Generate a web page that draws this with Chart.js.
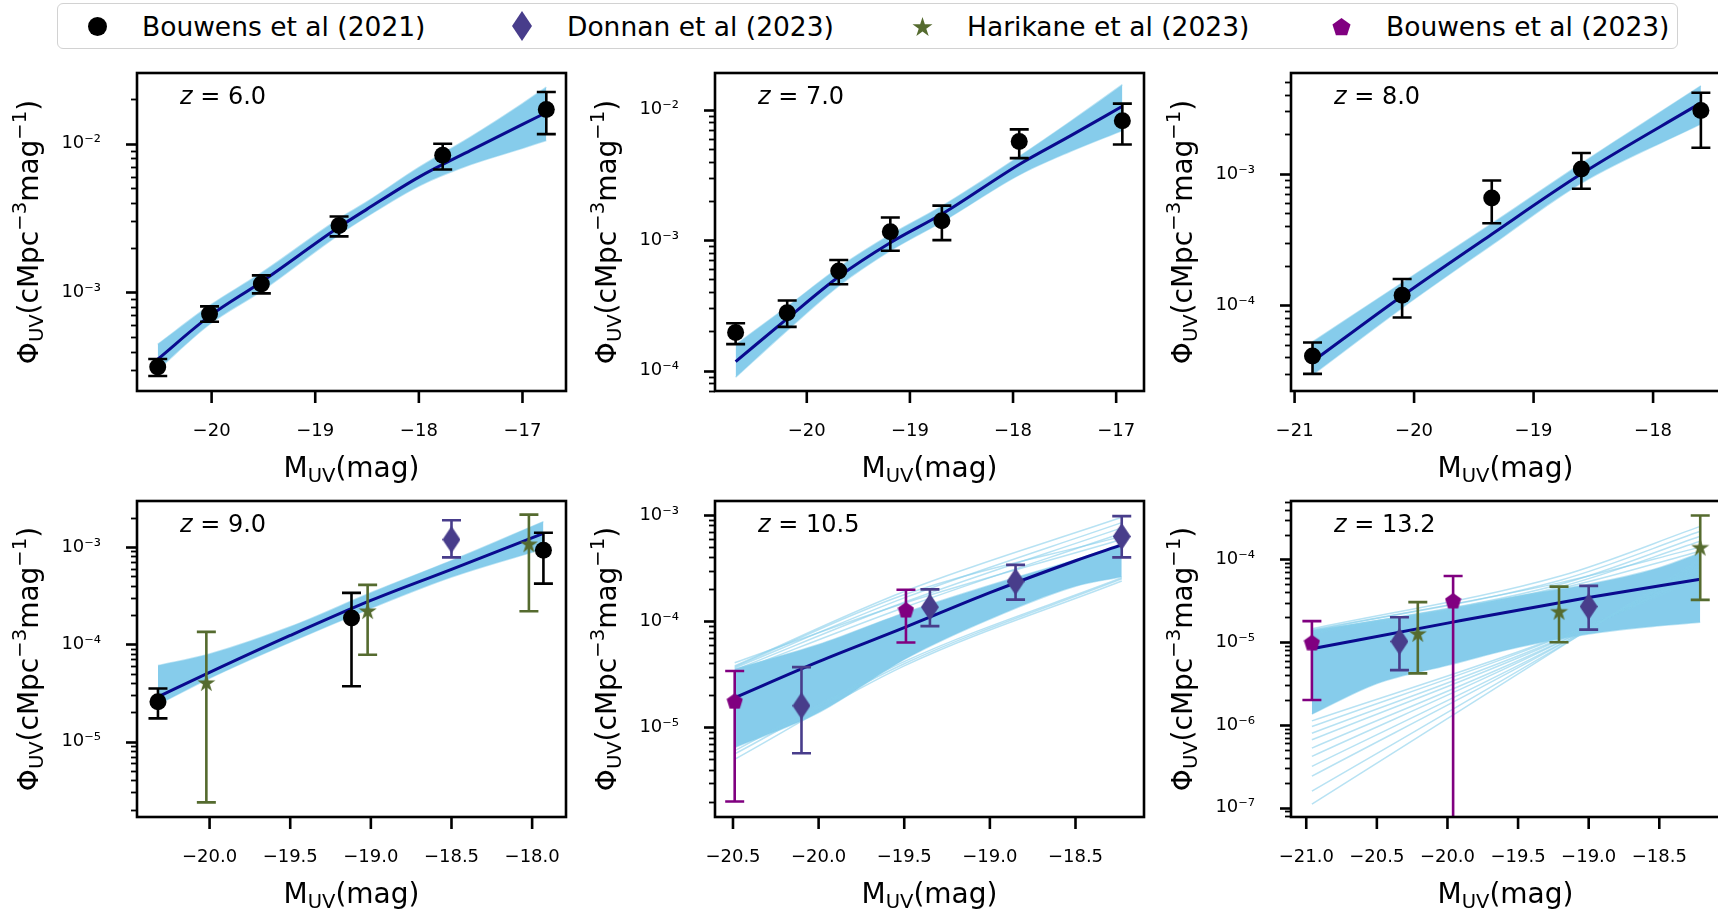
<!DOCTYPE html>
<html>
<head>
<meta charset="utf-8">
<script src="https://cdn.jsdelivr.net/npm/chart.js@4.4.1/dist/chart.umd.min.js"></script>
<style>
  body { margin: 0; width: 1718px; height: 912px; overflow: hidden; background: #fff; position: relative; font-family: "DejaVu Sans", sans-serif; }
  .panel { position: absolute; }
  #legend { position: absolute; left: 57px; top: 3px; width: 1621px; height: 46px; border: 1.5px solid #d2d2d2; border-radius: 6px; box-sizing: border-box; background: #fff; }
  .item { position: absolute; top: 0; height: 100%; display: flex; align-items: center; font-size: 26.5px; color: #000; white-space: nowrap; }
  .item .mk { width: 28px; margin-right: 31px; display: flex; justify-content: center; align-items: center; }
</style>
</head>
<body>
<div id="legend"></div>
<script>
// ====== Data ======

// z = 6.0
const z6_xRange = [-20.72, -16.58];
const z6_yRange = [2.17e-4, 2.99e-2];
const z6_xTicks = [-20, -19, -18, -17];
const z6_yTicks = [1e-3, 1e-2];
const z6_b21_M = [-20.52, -20.02, -19.52, -18.77, -17.77, -16.77];
const z6_b21_phi = [3.15e-4, 7.15e-4, 1.14e-3, 2.82e-3, 8.35e-3, 1.70e-2];
const z6_b21_lo = [2.74e-4, 6.34e-4, 9.85e-4, 2.38e-3, 6.71e-3, 1.16e-2];
const z6_b21_hi = [3.56e-4, 8.05e-4, 1.30e-3, 3.24e-3, 1.0e-2, 2.23e-2];
const z6_fit_M = [-20.52, -20.02, -19.52, -18.77, -18.5, -18.0, -17.5, -17.0, -16.77];
const z6_fit_phi = [3.55e-4, 6.92e-4, 1.175e-3, 2.75e-3, 3.63e-3, 5.96e-3, 9.02e-3, 1.35e-2, 1.62e-2];
const z6_band_M = [-20.52, -20.02, -19.52, -18.77, -18.5, -18.0, -17.5, -17.0, -16.77];
const z6_band_hi = [4.47e-4, 8.13e-4, 1.35e-3, 3.13e-3, 4.07e-3, 6.92e-3, 1.11e-2, 1.86e-2, 2.40e-2];
const z6_band_lo = [3.02e-4, 6.10e-4, 1.02e-3, 2.45e-3, 3.24e-3, 5.19e-3, 7.24e-3, 9.33e-3, 1.05e-2];

// z = 7.0
const z7_xRange = [-20.89, -16.73];
const z7_yRange = [7.41e-5, 1.905e-2];
const z7_xTicks = [-20, -19, -18, -17];
const z7_yTicks = [1e-4, 1e-3, 1e-2];
const z7_b21_M = [-20.69, -20.19, -19.69, -19.19, -18.69, -17.94, -16.94];
const z7_b21_phi = [1.96e-4, 2.78e-4, 5.8e-4, 1.16e-3, 1.41e-3, 5.7e-3, 8.2e-3];
const z7_b21_lo = [1.6e-4, 2.17e-4, 4.6e-4, 8.3e-4, 1.0e-3, 4.25e-3, 5.4e-3];
const z7_b21_hi = [2.31e-4, 3.45e-4, 7.05e-4, 1.49e-3, 1.84e-3, 7.05e-3, 1.11e-2];
const z7_fit_M = [-20.69, -20.19, -19.69, -19.19, -18.69, -17.94, -17.44, -16.94];
const z7_fit_phi = [1.175e-4, 2.51e-4, 5.25e-4, 9.55e-4, 1.585e-3, 3.8e-3, 6.31e-3, 1.06e-2];
const z7_band_M = [-20.69, -20.19, -19.69, -19.19, -18.69, -17.94, -17.44, -16.94];
const z7_band_hi = [1.58e-4, 3.09e-4, 6.17e-4, 1.10e-3, 1.82e-3, 4.37e-3, 8.13e-3, 1.55e-2];
const z7_band_lo = [8.91e-5, 2.04e-4, 4.47e-4, 8.32e-4, 1.38e-3, 3.16e-3, 4.79e-3, 6.92e-3];

// z = 8.0
const z8_xRange = [-21.03, -17.44];
const z8_yRange = [2.22e-5, 5.86e-3];
const z8_xTicks = [-21, -20, -19, -18];
const z8_yTicks = [1e-4, 1e-3];
const z8_b21_M = [-20.85, -20.10, -19.35, -18.60, -17.60];
const z8_b21_phi = [4.1e-5, 1.19e-4, 6.56e-4, 1.09e-3, 3.04e-3];
const z8_b21_lo = [3.0e-5, 8.05e-5, 4.2e-4, 7.7e-4, 1.58e-3];
const z8_b21_hi = [5.2e-5, 1.58e-4, 8.9e-4, 1.44e-3, 4.15e-3];
const z8_fit_M = [-20.85, -20.10, -19.35, -18.60, -17.60];
const z8_fit_phi = [3.72e-5, 1.175e-4, 3.47e-4, 1.0e-3, 3.47e-3];
const z8_band_M = [-20.85, -20.10, -19.35, -18.60, -17.60];
const z8_band_hi = [5.25e-5, 1.48e-4, 4.17e-4, 1.20e-3, 4.68e-3];
const z8_band_lo = [2.95e-5, 9.55e-5, 2.88e-4, 8.51e-4, 2.40e-3];

// z = 9.0
const z9_xRange = [-20.45, -17.79];
const z9_yRange = [1.675e-6, 2.965e-3];
const z9_xTicks = [-20.0, -19.5, -19.0, -18.5, -18.0];
const z9_yTicks = [1e-5, 1e-4, 1e-3];
const z9_b21_M = [-20.32, -19.12, -17.93];
const z9_b21_phi = [2.56e-5, 1.86e-4, 9.25e-4];
const z9_b21_lo = [1.73e-5, 3.7e-5, 4.2e-4];
const z9_b21_hi = [3.5e-5, 3.37e-4, 1.4e-3];
const z9_d23_M = [-18.5];
const z9_d23_phi = [1.19e-3];
const z9_d23_lo = [7.8e-4];
const z9_d23_hi = [1.88e-3];
const z9_h23_M = [-20.02, -19.02, -18.02];
const z9_h23_phi = [4.05e-5, 2.22e-4, 1.08e-3];
const z9_h23_lo = [2.37e-6, 7.8e-5, 2.18e-4];
const z9_h23_hi = [1.34e-4, 4.07e-4, 2.15e-3];
const z9_fit_M = [-20.32, -20.0, -19.5, -19.0, -18.5, -17.93];
const z9_fit_phi = [2.88e-5, 5.13e-5, 1.23e-4, 2.82e-4, 5.89e-4, 1.38e-3];
const z9_band_M = [-20.32, -20.0, -19.5, -19.0, -18.5, -17.93];
const z9_band_hi = [6.03e-5, 7.94e-5, 1.51e-4, 3.39e-4, 7.24e-4, 1.82e-3];
const z9_band_lo = [2.40e-5, 4.47e-5, 1.05e-4, 2.34e-4, 4.90e-4, 9.55e-4];

// z = 10.5
const z105_xRange = [-20.605, -18.10];
const z105_yRange = [1.43e-6, 1.36e-3];
const z105_xTicks = [-20.5, -20.0, -19.5, -19.0, -18.5];
const z105_yTicks = [1e-5, 1e-4, 1e-3];
const z105_b23_M = [-20.49, -19.49];
const z105_b23_phi = [1.78e-5, 1.29e-4];
const z105_b23_lo = [2.0e-6, 6.3e-5];
const z105_b23_hi = [3.4e-5, 1.98e-4];
const z105_d23_M = [-20.10, -19.35, -18.85, -18.23];
const z105_d23_phi = [1.6e-5, 1.36e-4, 2.37e-4, 6.3e-4];
const z105_d23_lo = [5.7e-6, 9.0e-5, 1.6e-4, 4.0e-4];
const z105_d23_hi = [3.7e-5, 2.0e-4, 3.4e-4, 9.8e-4];
const z105_fit_M = [-20.49, -20.0, -19.5, -19.0, -18.5, -18.23];
const z105_fit_phi = [1.905e-5, 4.17e-5, 8.71e-5, 1.86e-4, 3.72e-4, 5.25e-4];
const z105_band_M = [-20.49, -20.0, -19.5, -19.0, -18.5, -18.23];
const z105_band_hi = [3.55e-5, 6.03e-5, 1.20e-4, 2.19e-4, 3.80e-4, 5.37e-4];
const z105_band_lo = [6.46e-6, 1.38e-5, 4.37e-5, 1.05e-4, 2.14e-4, 2.63e-4];
const z105_sample_M = [-20.49, -19.5, -18.23];
const z105_samples = [
    [3.80e-5, 1.91e-4, 9.55e-4],
    [3.63e-5, 1.66e-4, 8.51e-4],
    [3.47e-5, 1.51e-4, 7.59e-4],
    [3.31e-5, 1.35e-4, 6.76e-4],
    [3.72e-5, 1.78e-4, 6.31e-4],
    [4.07e-5, 1.48e-4, 5.89e-4],
    [5.01e-6, 3.80e-5, 2.40e-4],
    [5.62e-6, 3.98e-5, 2.51e-4],
    [6.03e-6, 4.17e-5, 2.57e-4]
];

// z = 13.2
const z132_xRange = [-21.108, -18.07];
const z132_yRange = [7.71e-8, 5.09e-4];
const z132_xTicks = [-21.0, -20.5, -20.0, -19.5, -19.0, -18.5];
const z132_yTicks = [1e-7, 1e-6, 1e-5, 1e-4];
const z132_b23_M = [-20.96, -19.96];
const z132_b23_phi = [1.0e-5, 3.2e-5];
const z132_b23_lo = [2.0e-6, 1e-9];
const z132_b23_hi = [1.8e-5, 6.3e-5];
const z132_d23_M = [-20.34, -19.0];
const z132_d23_phi = [1.02e-5, 2.7e-5];
const z132_d23_lo = [4.6e-6, 1.42e-5];
const z132_d23_hi = [2.0e-5, 4.8e-5];
const z132_h23_M = [-20.21, -19.21, -18.21];
const z132_h23_phi = [1.28e-5, 2.37e-5, 1.41e-4];
const z132_h23_lo = [4.2e-6, 1.0e-5, 3.25e-5];
const z132_h23_hi = [3.05e-5, 4.7e-5, 3.4e-4];
const z132_fit_M = [-20.96, -20.0, -19.0, -18.21];
const z132_fit_phi = [8.32e-6, 1.70e-5, 3.47e-5, 5.75e-5];
const z132_band_M = [-20.96, -20.5, -20.0, -19.5, -19.0, -18.5, -18.21];
const z132_band_hi = [1.38e-5, 1.82e-5, 2.51e-5, 3.63e-5, 5.01e-5, 7.94e-5, 1.20e-4];
const z132_band_lo = [1.35e-6, 3.16e-6, 5.25e-6, 8.71e-6, 1.26e-5, 1.58e-5, 1.74e-5];
const z132_sample_M = [-20.96, -19.2, -18.21];
const z132_samples = [
    [1.10e-7, 8.71e-6, 1.0e-4],
    [1.58e-7, 8.91e-6, 9.33e-5],
    [2.40e-7, 9.33e-6, 8.71e-5],
    [3.16e-7, 9.55e-6, 8.32e-5],
    [4.17e-7, 1.0e-5, 7.94e-5],
    [5.25e-7, 1.02e-5, 7.41e-5],
    [6.61e-7, 1.07e-5, 7.08e-5],
    [7.94e-7, 1.10e-5, 6.61e-5],
    [9.55e-7, 1.15e-5, 6.31e-5],
    [1.12e-6, 1.17e-5, 5.89e-5],
    [1.45e-5, 6.31e-5, 2.51e-4],
    [1.38e-5, 5.62e-5, 2.19e-4],
    [1.32e-5, 5.01e-5, 1.91e-4],
    [1.26e-5, 4.68e-5, 1.66e-4],
    [1.41e-5, 5.25e-5, 1.41e-4],
    [1.35e-5, 4.47e-5, 1.26e-4]
];

// ====== Styles ======
const FONT = '"DejaVu Sans", sans-serif';
const SKY_FILL = 'rgba(128,201,234,0.95)';
const SKY_EDGE = 'rgba(135,206,235,0.55)';
const SKY_LINE = 'rgba(135,206,235,0.6)';
const FIT_COLOR = '#0a0a8e';
const SERIES = {
    b21: { label: 'Bouwens et al (2021)', color: '#000000', marker: 'circle' },
    d23: { label: 'Donnan et al (2023)', color: '#483d8b', marker: 'diamond' },
    h23: { label: 'Harikane et al (2023)', color: '#556b2f', marker: 'star' },
    b23: { label: 'Bouwens et al (2023)', color: '#800080', marker: 'pentagon' }
};
const AXIS_W = 137, AXIS_H = 100, PAD_T = 20, PAD_R = 20;
const CAP = 9.5;

// ====== Marker images ======
function makeMarker(kind, color, scale = 1) {
    const c = document.createElement('canvas');
    const sizes = { circle: [17, 17], diamond: [18, 27], star: [19, 19], pentagon: [17, 17] };
    const w = Math.round(sizes[kind][0] * scale), h = Math.round(sizes[kind][1] * scale);
    c.width = w; c.height = h;
    const g = c.getContext('2d');
    g.fillStyle = color;
    g.beginPath();
    if (kind === 'circle') {
        g.arc(w / 2, h / 2, w / 2, 0, Math.PI * 2);
    } else if (kind === 'diamond') {
        g.moveTo(w / 2, 0); g.lineTo(w, h / 2); g.lineTo(w / 2, h); g.lineTo(0, h / 2);
    } else if (kind === 'star') {
        for (let i = 0; i < 10; i++) {
            const r = i % 2 ? w * 0.19 : w / 2;
            const a = -Math.PI / 2 + i * Math.PI / 5;
            g.lineTo(w / 2 + r * Math.cos(a), h / 2 + 1 + r * Math.sin(a));
        }
    } else if (kind === 'pentagon') {
        for (let i = 0; i < 5; i++) {
            const a = -Math.PI / 2 + i * 2 * Math.PI / 5;
            g.lineTo(w / 2 + (w / 2) * Math.cos(a), h / 2 + 1 + (h / 2) * Math.sin(a));
        }
    }
    g.closePath();
    g.fill();
    return c;
}

// ====== Label helpers ======
const SUP = { '-': '\u207b', '0': '\u2070', '1': '\u00b9', '2': '\u00b2', '3': '\u00b3', '4': '\u2074', '5': '\u2075', '6': '\u2076', '7': '\u2077', '8': '\u2078', '9': '\u2079' };
function logLabel(v) {
    const e = String(Math.round(Math.log10(v)));
    return '10' + e.split('').map(ch => SUP[ch]).join('');
}
function magLabel(v, dec) {
    return v.toFixed(dec).replace('-', '\u2212');
}

function partFont(pt, size) {
    const s = (pt.sub || pt.sup) ? size * 0.7 : size;
    return (pt.italic ? 'italic ' : '') + s + 'px ' + FONT;
}
function drawRich(ctx, parts, size, x, y, align) {
    const widths = parts.map(pt => { ctx.font = partFont(pt, size); return ctx.measureText(pt.t).width; });
    const total = widths.reduce((a, b) => a + b, 0);
    let cx = align === 'center' ? x - total / 2 : x;
    ctx.textAlign = 'left';
    ctx.textBaseline = 'alphabetic';
    parts.forEach((pt, i) => {
        ctx.font = partFont(pt, size);
        const dy = pt.sub ? size * 0.19 : pt.sup ? -size * 0.42 : 0;
        ctx.fillText(pt.t, cx, y + dy);
        cx += widths[i];
    });
}

const XLABEL = [{ t: 'M' }, { t: 'UV', sub: true }, { t: '(mag)' }];
const YLABEL = [{ t: '\u03a6' }, { t: 'UV', sub: true }, { t: '(cMpc' }, { t: '\u22123', sup: true }, { t: 'mag' }, { t: '\u22121', sup: true }, { t: ')' }];

// ====== Plugins ======
const errorBarPlugin = {
    id: 'errorBars',
    beforeDatasetDraw(chart, args) {
        const ds = chart.data.datasets[args.index];
        if (!ds.errLo) return;
        const { ctx, chartArea: a, scales: { x, y } } = chart;
        ctx.save();
        ctx.beginPath();
        ctx.rect(a.left, a.top, a.right - a.left, a.bottom - a.top);
        ctx.clip();
        ctx.strokeStyle = ds.errColor;
        ctx.lineWidth = 2.6;
        ds.data.forEach((p, i) => {
            const px = x.getPixelForValue(p.x);
            const y0 = y.getPixelForValue(ds.errLo[i]);
            const y1 = y.getPixelForValue(ds.errHi[i]);
            ctx.beginPath();
            ctx.moveTo(px, y0); ctx.lineTo(px, y1);
            ctx.moveTo(px - CAP, y1); ctx.lineTo(px + CAP, y1);
            ctx.moveTo(px - CAP, y0); ctx.lineTo(px + CAP, y0);
            ctx.stroke();
        });
        ctx.restore();
    }
};

const framePlugin = {
    id: 'frame',
    afterDatasetsDraw(chart) {
        const { ctx, chartArea: a, scales: { x, y } } = chart;
        ctx.save();
        ctx.strokeStyle = '#000';
        ctx.lineWidth = 2.6;
        ctx.strokeRect(a.left, a.top, a.right - a.left, a.bottom - a.top);
        x.ticks.forEach(t => {
            const px = x.getPixelForValue(t.value);
            ctx.beginPath(); ctx.moveTo(px, a.bottom); ctx.lineTo(px, a.bottom + 12); ctx.stroke();
        });
        const e0 = Math.floor(Math.log10(y.min)), e1 = Math.ceil(Math.log10(y.max));
        for (let e = e0; e <= e1; e++) {
            for (let k = 1; k <= 9; k++) {
                const v = k * Math.pow(10, e);
                if (v < y.min || v > y.max) continue;
                const py = Math.round(y.getPixelForValue(v)) + 0.5;
                ctx.lineWidth = k === 1 ? 2.6 : 1.8;
                ctx.beginPath(); ctx.moveTo(a.left, py); ctx.lineTo(a.left - (k === 1 ? 11 : 6), py); ctx.stroke();
            }
        }
        ctx.restore();
    }
};

function textPlugin(p) {
    return {
        id: 'panelText',
        afterDraw(chart) {
            const { ctx, chartArea: a } = chart;
            ctx.save();
            ctx.fillStyle = '#000';
            drawRich(ctx, XLABEL, 28, (a.left + a.right) / 2, a.bottom + 86, 'center');
            ctx.translate(28, (a.top + a.bottom) / 2);
            ctx.rotate(-Math.PI / 2);
            drawRich(ctx, YLABEL, 28, 0, 9.5, 'center');
            ctx.restore();
            ctx.save();
            ctx.fillStyle = '#000';
            drawRich(ctx, [{ t: 'z', italic: true }, { t: ' = ' + p.zText }], 24, a.left + 43, a.top + 31, 'left');
            ctx.restore();
        }
    };
}

// ====== Panels ======
const panels = [
    { left: 137, top: 73, w: 429, h: 318, zText: '6.0', xRange: z6_xRange, yRange: z6_yRange, xTicks: z6_xTicks, yTicks: z6_yTicks, xDec: 0,
      series: [{ key: 'b21', M: z6_b21_M, phi: z6_b21_phi, lo: z6_b21_lo, hi: z6_b21_hi }],
      fit: [z6_fit_M, z6_fit_phi], band: [z6_band_M, z6_band_hi, z6_band_lo], samples: null },
    { left: 715, top: 73, w: 429, h: 318, zText: '7.0', xRange: z7_xRange, yRange: z7_yRange, xTicks: z7_xTicks, yTicks: z7_yTicks, xDec: 0,
      series: [{ key: 'b21', M: z7_b21_M, phi: z7_b21_phi, lo: z7_b21_lo, hi: z7_b21_hi }],
      fit: [z7_fit_M, z7_fit_phi], band: [z7_band_M, z7_band_hi, z7_band_lo], samples: null },
    { left: 1291, top: 73, w: 429, h: 318, zText: '8.0', xRange: z8_xRange, yRange: z8_yRange, xTicks: z8_xTicks, yTicks: z8_yTicks, xDec: 0,
      series: [{ key: 'b21', M: z8_b21_M, phi: z8_b21_phi, lo: z8_b21_lo, hi: z8_b21_hi }],
      fit: [z8_fit_M, z8_fit_phi], band: [z8_band_M, z8_band_hi, z8_band_lo], samples: null },
    { left: 137, top: 501, w: 429, h: 316, zText: '9.0', xRange: z9_xRange, yRange: z9_yRange, xTicks: z9_xTicks, yTicks: z9_yTicks, xDec: 1,
      series: [
          { key: 'b21', M: z9_b21_M, phi: z9_b21_phi, lo: z9_b21_lo, hi: z9_b21_hi },
          { key: 'd23', M: z9_d23_M, phi: z9_d23_phi, lo: z9_d23_lo, hi: z9_d23_hi },
          { key: 'h23', M: z9_h23_M, phi: z9_h23_phi, lo: z9_h23_lo, hi: z9_h23_hi }
      ],
      fit: [z9_fit_M, z9_fit_phi], band: [z9_band_M, z9_band_hi, z9_band_lo], samples: null },
    { left: 715, top: 501, w: 429, h: 316, zText: '10.5', xRange: z105_xRange, yRange: z105_yRange, xTicks: z105_xTicks, yTicks: z105_yTicks, xDec: 1,
      series: [
          { key: 'b23', M: z105_b23_M, phi: z105_b23_phi, lo: z105_b23_lo, hi: z105_b23_hi },
          { key: 'd23', M: z105_d23_M, phi: z105_d23_phi, lo: z105_d23_lo, hi: z105_d23_hi }
      ],
      fit: [z105_fit_M, z105_fit_phi], band: [z105_band_M, z105_band_hi, z105_band_lo], samples: [z105_sample_M, z105_samples] },
    { left: 1291, top: 501, w: 429, h: 316, zText: '13.2', xRange: z132_xRange, yRange: z132_yRange, xTicks: z132_xTicks, yTicks: z132_yTicks, xDec: 1,
      series: [
          { key: 'b23', M: z132_b23_M, phi: z132_b23_phi, lo: z132_b23_lo, hi: z132_b23_hi },
          { key: 'd23', M: z132_d23_M, phi: z132_d23_phi, lo: z132_d23_lo, hi: z132_d23_hi },
          { key: 'h23', M: z132_h23_M, phi: z132_h23_phi, lo: z132_h23_lo, hi: z132_h23_hi }
      ],
      fit: [z132_fit_M, z132_fit_phi], band: [z132_band_M, z132_band_hi, z132_band_lo], samples: [z132_sample_M, z132_samples] }
];

const markerCache = {};
function markerFor(key) {
    const st = SERIES[key];
    if (st.marker === 'circle') return 'circle';
    if (!markerCache[key]) markerCache[key] = makeMarker(st.marker, st.color);
    return markerCache[key];
}

const toPts = (xs, ys) => xs.map((x, i) => ({ x, y: ys[i] }));

function buildDatasets(p) {
    const ds = [];
    // points with error bars (drawn on top)
    p.series.forEach(s => {
        const st = SERIES[s.key];
        ds.push({
            data: toPts(s.M, s.phi), showLine: false, order: 0,
            pointStyle: markerFor(s.key), pointRadius: 8.5, pointBackgroundColor: st.color, pointBorderWidth: 0,
            errLo: s.lo, errHi: s.hi, errColor: st.color
        });
    });
    // best-fit line
    ds.push({ data: toPts(p.fit[0], p.fit[1]), borderColor: FIT_COLOR, borderWidth: 3, pointRadius: 0, order: 1,
              cubicInterpolationMode: 'monotone' });
    // individual posterior lines
    if (p.samples) {
        p.samples[1].forEach(row => {
            ds.push({ data: toPts(p.samples[0], row), borderColor: SKY_LINE, borderWidth: 1.5, pointRadius: 0, order: 2,
                      cubicInterpolationMode: 'monotone' });
        });
    }
    // band of posterior lines
    ds.push({ data: toPts(p.band[0], p.band[1]), borderColor: SKY_EDGE, borderWidth: 1.5, pointRadius: 0, fill: '+1',
              backgroundColor: SKY_FILL, order: 3, cubicInterpolationMode: 'monotone' });
    ds.push({ data: toPts(p.band[0], p.band[2]), borderColor: SKY_EDGE, borderWidth: 1.5, pointRadius: 0, fill: false,
              order: 3, cubicInterpolationMode: 'monotone' });
    return ds;
}

panels.forEach(p => {
    const W = AXIS_W + p.w + PAD_R, H = PAD_T + p.h + AXIS_H;
    const wrap = document.createElement('div');
    wrap.className = 'panel';
    wrap.style.left = (p.left - AXIS_W) + 'px';
    wrap.style.top = (p.top - PAD_T) + 'px';
    const cv = document.createElement('canvas');
    cv.width = W; cv.height = H;
    cv.style.width = W + 'px'; cv.style.height = H + 'px';
    wrap.appendChild(cv);
    document.body.appendChild(wrap);

    new Chart(cv, {
        type: 'line',
        data: { datasets: buildDatasets(p) },
        options: {
            responsive: false,
            animation: false,
            devicePixelRatio: 1,
            events: [],
            layout: { padding: { left: 0, top: PAD_T, right: PAD_R, bottom: 0 } },
            plugins: { legend: { display: false }, tooltip: { enabled: false } },
            scales: {
                x: {
                    type: 'linear', min: p.xRange[0], max: p.xRange[1],
                    grid: { display: false, drawTicks: false }, border: { display: false },
                    ticks: { color: '#000', font: { family: FONT, size: 18 }, padding: 30, maxRotation: 0, minRotation: 0, autoSkip: false,
                             callback: v => magLabel(v, p.xDec) },
                    afterBuildTicks: s => { s.ticks = p.xTicks.map(v => ({ value: v })); },
                    afterFit: s => { s.height = AXIS_H; s.paddingLeft = 0; s.paddingRight = 0; }
                },
                y: {
                    type: 'logarithmic', min: p.yRange[0], max: p.yRange[1],
                    grid: { display: false, drawTicks: false }, border: { display: false },
                    ticks: { color: '#000', font: { family: FONT, size: 18 }, padding: 36, autoSkip: false,
                             callback: v => logLabel(v) },
                    afterBuildTicks: s => { s.ticks = p.yTicks.map(v => ({ value: v })); },
                    afterFit: s => { s.width = AXIS_W; s.paddingTop = 0; s.paddingBottom = 0; }
                }
            }
        },
        plugins: [errorBarPlugin, framePlugin, textPlugin(p)]
    });
});

// ====== Figure legend ======
const LEGEND_KEYS = ['b21', 'd23', 'h23', 'b23'];
const LEGEND_TEXT_X = [84, 509, 909, 1328];
const legendBox = document.getElementById('legend');
LEGEND_KEYS.forEach((key, i) => {
    const st = SERIES[key];
    const item = document.createElement('div');
    item.className = 'item';
    item.style.left = (LEGEND_TEXT_X[i] - 59) + 'px';
    const mk = document.createElement('div');
    mk.className = 'mk';
    mk.appendChild(makeMarker(st.marker, st.color, 1.1));
    const txt = document.createElement('span');
    txt.textContent = st.label;
    item.appendChild(mk);
    item.appendChild(txt);
    legendBox.appendChild(item);
});
</script>
</body>
</html>
